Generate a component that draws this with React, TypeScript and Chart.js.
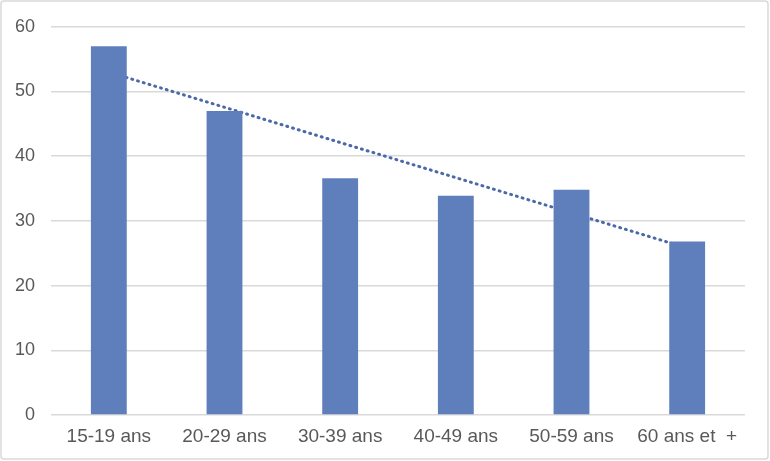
import React, { useEffect, useRef } from "react";
import { Chart, registerables } from "chart.js";

Chart.register(...registerables);

const categories = ["15-19 ans", "20-29 ans", "30-39 ans", "40-49 ans", "50-59 ans", "60 ans et  +"];
const values = [57.0, 47.0, 36.6, 33.9, 34.8, 26.8];
// trend line endpoints (line spans the gaps)
const trendValues = [53.0, null, null, null, null, 25.8];
const yTicks = [0, 10, 20, 30, 40, 50, 60];

const borderPlugin = {
  id: "outerBorder",
  beforeDraw(chart: any) {
    const ctx = chart.ctx;
    ctx.save();
    ctx.fillStyle = "#ffffff";
    ctx.fillRect(0, 0, chart.width, chart.height);
    ctx.strokeStyle = "#d9d9d9";
    ctx.lineWidth = 1.5;
    ctx.beginPath();
    if (ctx.roundRect) ctx.roundRect(1, 1, chart.width - 3, chart.height - 3, 3);
    else ctx.rect(1, 1, chart.width - 3, chart.height - 3);
    ctx.stroke();
    ctx.restore();
  },
};

export default function App() {
  const ref = useRef<HTMLCanvasElement>(null);
  useEffect(() => {
    document.body.style.margin = "0";
    const chart = new Chart(ref.current!, {
      type: "bar",
      data: {
        labels: categories,
        datasets: [
          {
            type: "line",
            data: trendValues as any,
            borderColor: "#4a69a8",
            borderWidth: 3,
            borderDash: [1, 5],
            borderCapStyle: "round",
            pointRadius: 0,
            spanGaps: true,
            order: 2,
          } as any,
          {
            type: "bar",
            data: values,
            backgroundColor: "#5e7fbc",
            barPercentage: 0.31,
            categoryPercentage: 1,
            order: 1,
          },
        ],
      },
      options: {
        responsive: false,
        animation: false,
        devicePixelRatio: 1,
        layout: { padding: { left: 0, right: 25, top: 26, bottom: 0 } },
        plugins: { legend: { display: false }, tooltip: { enabled: false } },
        scales: {
          x: {
            grid: { display: false },
            border: { display: false },
            ticks: {
              color: "#595959",
              font: { family: "'Liberation Sans', Arial, sans-serif", size: 19 },
              padding: 2,
              maxRotation: 0,
              autoSkip: false,
            },
            afterFit(scale: any) {
              scale.height = 46;
            },
          },
          y: {
            min: 0,
            max: 60,
            afterBuildTicks(scale: any) {
              scale.ticks = yTicks.map((v) => ({ value: v }));
            },
            grid: { color: "#d9d9d9", lineWidth: 1.5, drawTicks: false },
            border: { display: false },
            ticks: {
              color: "#595959",
              font: { family: "'Liberation Sans', Arial, sans-serif", size: 18 },
              padding: 16,
            },
            afterFit(scale: any) {
              scale.width = 51;
            },
          },
        },
      },
      plugins: [borderPlugin],
    });
    return () => chart.destroy();
  }, []);
  return <canvas ref={ref} width={770} height={461} style={{ display: "block" }} />;
}
